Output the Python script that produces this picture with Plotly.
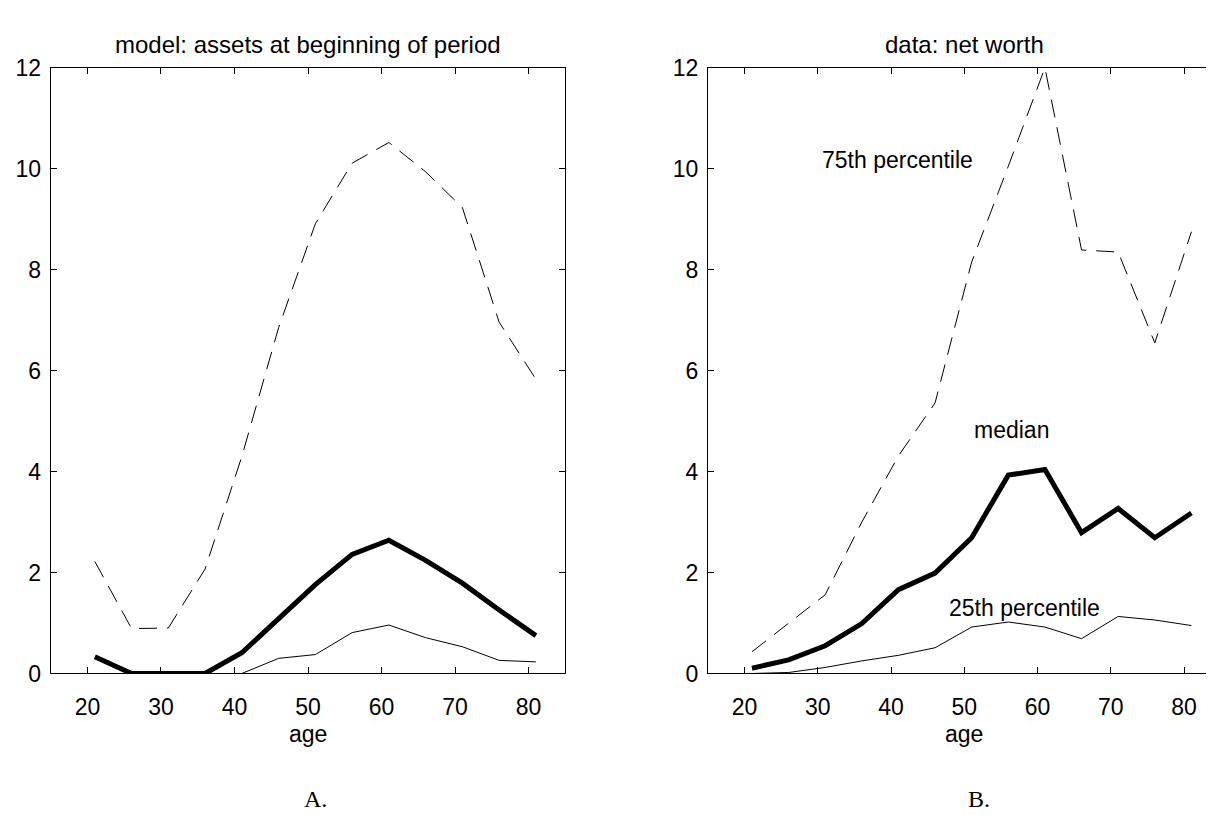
import plotly.graph_objects as go

ages = [21, 26, 31, 36, 41, 46, 51, 56, 61, 66, 71, 76, 81]

# Panel A: model, assets at beginning of period
model_p75 = [2.22, 0.89, 0.90, 2.07, 4.30, 6.85, 8.91, 10.11, 10.52, 9.94, 9.23, 6.96, 5.83]
model_med = [0.33, 0.0, 0.0, 0.0, 0.41, 1.08, 1.76, 2.36, 2.64, 2.24, 1.79, 1.26, 0.75]
model_p25 = [None, None, None, None, 0.0, 0.30, 0.375, 0.81, 0.96, 0.71, 0.53, 0.26, 0.23]

# Panel B: data, net worth
data_p75 = [0.43, 1.0, 1.56, 3.0, 4.31, 5.36, 8.15, 10.05, 12.0, 8.39, 8.35, 6.55, 8.75]
data_med = [0.105, 0.27, 0.55, 0.99, 1.66, 1.99, 2.69, 3.93, 4.04, 2.79, 3.27, 2.69, 3.18]
data_p25 = [0.0, 0.02, 0.12, 0.25, 0.36, 0.51, 0.92, 1.02, 0.92, 0.69, 1.13, 1.06, 0.95]

x_ticks = [20, 30, 40, 50, 60, 70, 80]
y_ticks = [0, 2, 4, 6, 8, 10, 12]

W, H = 1214, 815
FONT = "Liberation Sans, Arial, Helvetica, sans-serif"
SERIF = "Liberation Serif, Times New Roman, serif"

fig = go.Figure()

def add_panel(p75, med, p25, xa, ya):
    fig.add_trace(go.Scatter(x=ages, y=p75, mode="lines", xaxis=xa, yaxis=ya,
                             line=dict(color="black", width=1, dash="18px,10px"),
                             showlegend=False, hoverinfo="skip"))
    fig.add_trace(go.Scatter(x=ages, y=p25, mode="lines", xaxis=xa, yaxis=ya,
                             line=dict(color="black", width=1),
                             showlegend=False, hoverinfo="skip"))
    fig.add_trace(go.Scatter(x=ages, y=med, mode="lines", xaxis=xa, yaxis=ya,
                             line=dict(color="black", width=5),
                             showlegend=False, hoverinfo="skip"))

add_panel(model_p75, model_med, model_p25, "x", "y")
add_panel(data_p75, data_med, data_p25, "x2", "y2")

xl = [42.7 / W, 557.3 / W]
xr = [700.0 / W, 1212.7 / W]
yd = [1 - 674.0 / H, 1 - 48.3 / H]

axis_common = dict(showline=True, linecolor="black", linewidth=1.2, mirror="ticks",
                   ticks="inside", ticklen=6, tickwidth=1, tickcolor="black",
                   showgrid=False, zeroline=False,
                   tickfont=dict(family=FONT, size=23, color="black"))

fig.update_layout(
    width=W, height=H,
    margin=dict(l=0, r=0, t=0, b=0),
    paper_bgcolor="white", plot_bgcolor="white",
    xaxis=dict(domain=xl, range=[15, 85], tickvals=x_ticks, anchor="y",
               ticklabelstandoff=13, **axis_common),
    yaxis=dict(domain=yd, range=[0, 12], tickvals=y_ticks, anchor="x",
               ticklabelstandoff=4, **axis_common),
    xaxis2=dict(domain=xr, range=[15, 85], tickvals=x_ticks, anchor="y2",
                ticklabelstandoff=13, **axis_common),
    yaxis2=dict(domain=yd, range=[0, 12], tickvals=y_ticks, anchor="x2",
                ticklabelstandoff=4, **axis_common),
)

def pa(x_px, y_px, text, size=23, family=FONT):
    fig.add_annotation(x=x_px / W, y=1 - y_px / H, xref="paper", yref="paper",
                       text=text, showarrow=False, xanchor="center", yanchor="middle",
                       font=dict(family=family, size=size, color="black"))

pa(300, 24, "model: assets at beginning of period", 24)
pa(956, 24, "data: net worth", 24)
pa(300, 737, "age")
pa(956, 737, "age")
pa(307, 804, "A.", 24, SERIF)
pa(971, 804, "B.", 24, SERIF)

for tx, ty, t in [(40.9, 10.17, "75th percentile"), (56.4, 4.83, "median"),
                  (58.2, 1.29, "25th percentile")]:
    fig.add_annotation(x=tx, y=ty, xref="x2", yref="y2", text=t, showarrow=False,
                       xanchor="center", yanchor="middle",
                       font=dict(family=FONT, size=23, color="black"))

fig.write_html("out.html")
